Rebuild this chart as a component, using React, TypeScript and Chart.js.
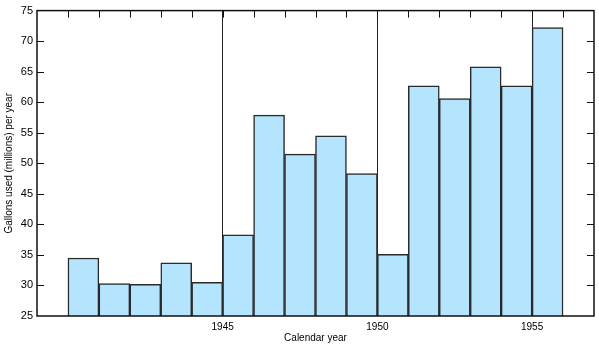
import React, { useEffect, useRef } from "react";
import { Chart, registerables } from "chart.js";

Chart.register(...registerables);

const years = [1940, 1941, 1942, 1943, 1944, 1945, 1946, 1947, 1948, 1949, 1950, 1951, 1952, 1953, 1954, 1955];
const gallons = [34.5, 30.3, 30.2, 33.7, 30.5, 38.3, 57.9, 51.5, 54.5, 48.3, 35.1, 62.7, 60.6, 65.8, 62.7, 72.2];
const xTickLabels = [1945, 1950, 1955];
const yTicks = [25, 30, 35, 40, 45, 50, 55, 60, 65, 70, 75];

const FONT = "'Liberation Sans', Arial, Helvetica, sans-serif";

const framePlugin = {
  id: "frameTicks",
  afterDatasetsDraw(chart: any) {
    const { ctx, chartArea, scales } = chart;
    const x = scales.x;
    const y = scales.y;
    ctx.save();
    ctx.strokeStyle = "#111";
    ctx.lineWidth = 1;
    ctx.beginPath();
    for (let yr = years[0]; yr <= years[years.length - 1] + 1; yr++) {
      const px = Math.round(x.getPixelForValue(yr)) + 0.5;
      ctx.moveTo(px, chartArea.top);
      ctx.lineTo(px, chartArea.top + 7);
    }
    for (const v of yTicks) {
      if (v === yTicks[0] || v === yTicks[yTicks.length - 1]) continue;
      const py = Math.round(y.getPixelForValue(v)) + 0.5;
      ctx.moveTo(chartArea.left, py);
      ctx.lineTo(chartArea.left + 7, py);
      ctx.moveTo(chartArea.right, py);
      ctx.lineTo(chartArea.right - 7, py);
    }
    ctx.stroke();
    ctx.lineWidth = 1.5;
    ctx.strokeRect(chartArea.left, chartArea.top, chartArea.right - chartArea.left, chartArea.bottom - chartArea.top);
    ctx.restore();
  },
};

export default function App() {
  const ref = useRef<HTMLCanvasElement>(null);
  useEffect(() => {
    document.body.style.margin = "0";
    const chart = new Chart(ref.current as HTMLCanvasElement, {
      type: "bar",
      data: {
        datasets: [
          {
            data: years.map((yr, i) => ({ x: yr + 0.5, y: gallons[i] })),
            backgroundColor: "#B4E4FE",
            borderColor: "#2a2a2a",
            borderWidth: 1.5,
            barPercentage: 1,
            categoryPercentage: 1,
          },
        ],
      },
      options: {
        animation: false,
        responsive: false,
        maintainAspectRatio: false,
        layout: { padding: { top: 8, right: 5, left: 3, bottom: 10 } },
        plugins: { legend: { display: false }, tooltip: { enabled: false } },
        scales: {
          x: {
            type: "linear",
            min: 1939,
            max: 1957,
            offset: false,
            afterBuildTicks: (scale: any) => {
              scale.ticks = xTickLabels.map((v) => ({ value: v }));
            },
            afterFit: (scale: any) => {
              scale.height = 28;
            },
            ticks: {
              callback: (v: any) => String(v),
              color: "#000",
              font: { family: FONT, size: 10 },
              padding: 5,
              maxRotation: 0,
            },
            grid: { color: "#222", lineWidth: 1, drawTicks: false, drawOnChartArea: true, offset: false },
            border: { display: false },
            title: {
              display: true,
              text: "Calendar year",
              color: "#000",
              font: { family: FONT, size: 10 },
              padding: { top: 0, bottom: 0 },
            },
          },
          y: {
            min: 25,
            max: 75,
            afterBuildTicks: (scale: any) => {
              scale.ticks = yTicks.map((v) => ({ value: v }));
            },
            afterFit: (scale: any) => {
              scale.width = 34;
            },
            ticks: {
              color: "#000",
              font: { family: FONT, size: 11 },
              padding: 4,
            },
            grid: { display: false, drawTicks: false },
            border: { display: false },
            title: {
              display: true,
              text: "Gallons used (millions) per year",
              color: "#000",
              font: { family: FONT, size: 10 },
              padding: { top: 0, bottom: 0 },
            },
          },
        },
      },
      plugins: [framePlugin],
    });
    return () => chart.destroy();
  }, []);
  return (
    <div style={{ width: 599, height: 354 }}>
      <canvas ref={ref} width={599} height={354} style={{ display: "block" }} />
    </div>
  );
}
